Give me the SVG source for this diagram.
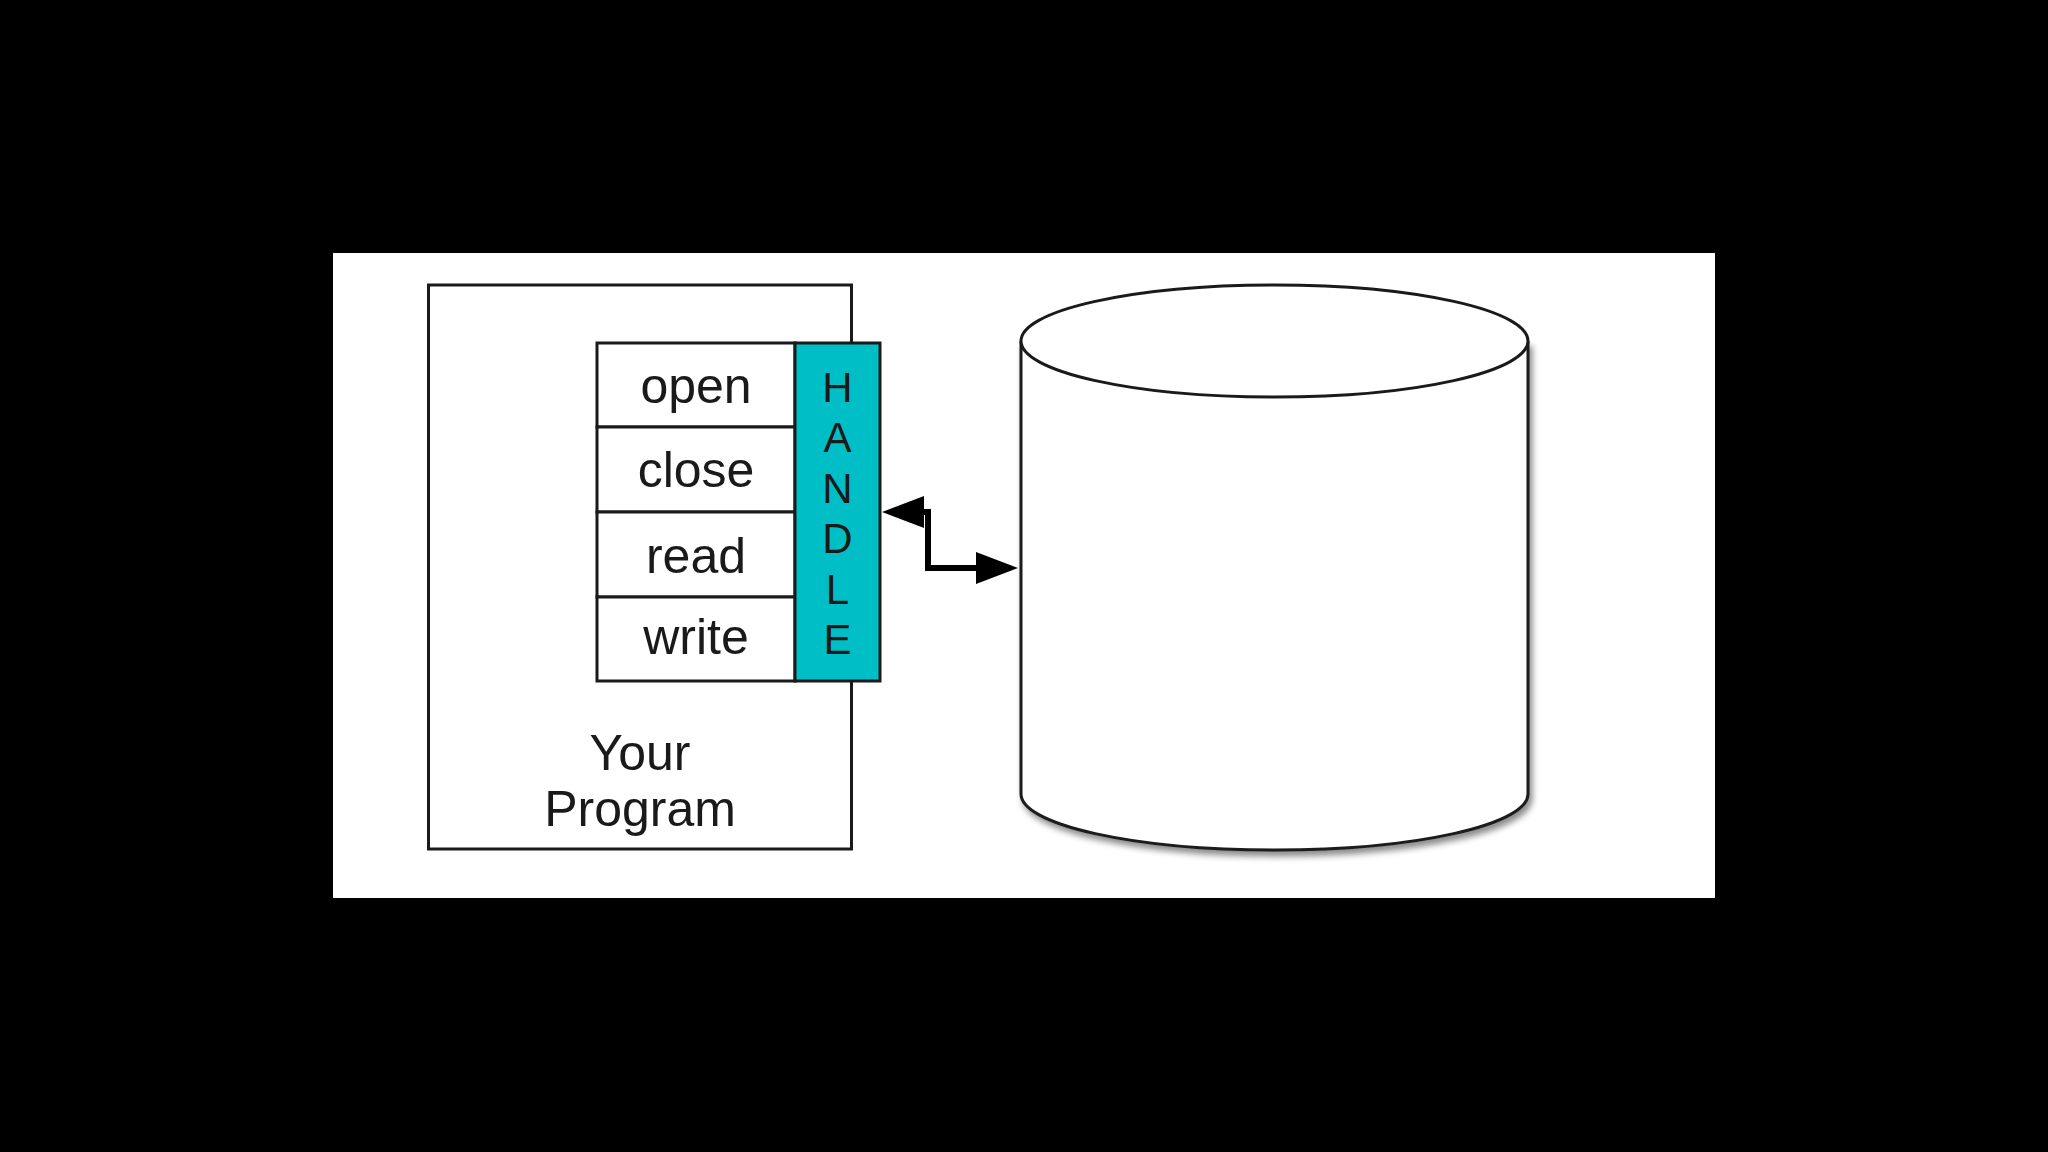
<svg xmlns="http://www.w3.org/2000/svg" width="2048" height="1152" viewBox="0 0 2048 1152">
  <defs>
    <style>
      .box { fill: #ffffff; stroke: #1a1a1a; stroke-width: 3; }
      .lbl { font-family: "Liberation Sans", Arial, sans-serif; font-size: 50px; fill: #1a1a1a; text-anchor: middle; }
      .hdl { font-family: "Liberation Sans", Arial, sans-serif; font-size: 42px; fill: #1a1a1a; text-anchor: middle; }
      .conn { fill: none; stroke: #000000; stroke-width: 6; }
      .ah { fill: #000000; }
    </style>
    <filter id="shadow" x="-10%" y="-10%" width="125%" height="130%">
      <feDropShadow dx="3" dy="5" stdDeviation="3" flood-color="#000000" flood-opacity="0.45"/>
    </filter>
  </defs>

  <rect x="0" y="0" width="2048" height="1152" fill="#000000"/>
  <rect x="333" y="253" width="1382" height="645" fill="#ffffff"/>

  <g id="your-program">
    <rect class="box" x="428.5" y="285" width="423" height="564"/>
    <text class="lbl" x="640" y="770">Your</text>
    <text class="lbl" x="640" y="826">Program</text>
  </g>

  <g id="methods">
    <rect class="box" x="597" y="343" width="198" height="84"/>
    <rect class="box" x="597" y="427" width="198" height="85"/>
    <rect class="box" x="597" y="512" width="198" height="85"/>
    <rect class="box" x="597" y="597" width="198" height="84"/>
    <text class="lbl" x="696" y="403">open</text>
    <text class="lbl" x="696" y="487">close</text>
    <text class="lbl" x="696" y="573">read</text>
    <text class="lbl" x="696" y="654">write</text>
  </g>

  <g id="handle">
    <rect x="795" y="343" width="85" height="338" fill="#00BEC6" stroke="#1a1a1a" stroke-width="3"/>
    <text class="hdl" x="837.5" y="402">H</text>
    <text class="hdl" x="837.5" y="452">A</text>
    <text class="hdl" x="837.5" y="503">N</text>
    <text class="hdl" x="837.5" y="553">D</text>
    <text class="hdl" x="837.5" y="604">L</text>
    <text class="hdl" x="837.5" y="654">E</text>
  </g>

  <g id="storage">
    <path d="M1021,341 L1021,794 A253.5,56 0 0 0 1528,794 L1528,341" fill="#ffffff" stroke="#1a1a1a" stroke-width="3" filter="url(#shadow)"/>
    <ellipse cx="1274.5" cy="341" rx="253.5" ry="56" fill="#ffffff" stroke="#1a1a1a" stroke-width="3"/>
  </g>

  <g id="connectors">
    <path class="conn" d="M920,512 L928,512 L928,568 L980,568"/>
    <polygon class="ah" points="882,512 924,496 924,528"/>
    <polygon class="ah" points="1018,568 976,552 976,584"/>
  </g>
</svg>
